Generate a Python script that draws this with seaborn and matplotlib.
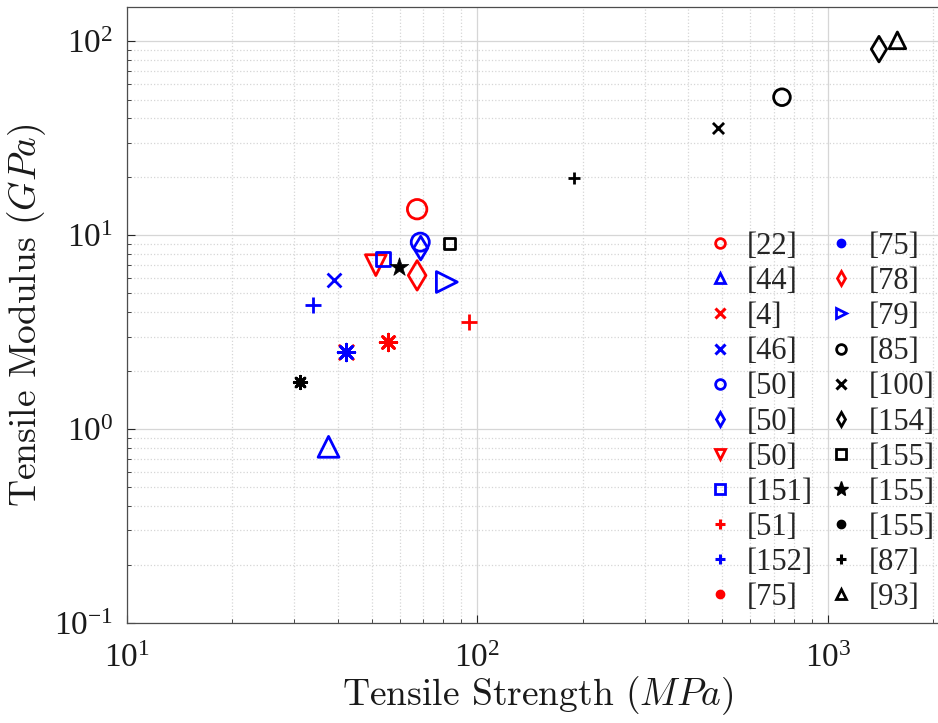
import numpy as np
import pandas as pd
import matplotlib
matplotlib.use("Agg")
import matplotlib.pyplot as plt
from matplotlib.lines import Line2D
import seaborn as sns

# ------------------------------------------------------------------
# data
# ------------------------------------------------------------------
refs = ['[22]', '[44]', '[4]', '[46]', '[50]', '[50]', '[50]', '[151]',
        '[51]', '[152]', '[75]', '[75]', '[78]', '[79]', '[85]', '[100]',
        '[154]', '[155]', '[155]', '[155]', '[87]', '[93]']
strength_mpa = [67.3, 37.6, 42.2, 39.0, 68.7, 68.9, 51.3, 53.7,
                94.4, 33.9, 55.5, 42.2, 67.3, 81.8, 740, 485,
                1400, 83.4, 59.6, 31.1, 189, 1580]
modulus_gpa = [13.6, 0.81, 2.49, 5.86, 9.2, 8.57, 7.0, 7.5,
               3.57, 4.35, 2.81, 2.49, 6.2, 5.73, 51.4, 35.6,
               91, 9.1, 6.84, 1.75, 19.7, 101]

# styling per series (kept apart from the data)
colors = ['r', 'b', 'r', 'b', 'b', 'b', 'r', 'b', 'r', 'b', 'r', 'b',
          'r', 'b', 'k', 'k', 'k', 'k', 'k', 'k', 'k', 'k']
ASTER = (8, 2, 0)
markers = ['o', '^', 'x', 'x', 'o', 'd', 'v', 's', '+', '+', ASTER, ASTER,
           'd', '>', 'o', 'x', 'd', 's', '*', ASTER, '+', '^']
sizes = [14, 15, 11, 10, 13, 12, 15, 10, 12, 12, 12, 12,
         15, 15, 12, 8, 13, 8, 14, 9, 9, 12]
legend_markers = ['o', '^', 'x', 'x', 'o', 'd', 'v', 's', '+', '+', 'o', 'o',
                  'd', '>', 'o', 'x', 'd', 's', '*', 'o', '+', '^']

df = pd.DataFrame({'ref': refs, 'strength': strength_mpa, 'modulus': modulus_gpa})

# ------------------------------------------------------------------
# style
# ------------------------------------------------------------------
sns.set_theme(style="white")
plt.rcParams['font.family'] = ['Liberation Serif', 'DejaVu Serif']
plt.rcParams['mathtext.fontset'] = 'cm'
plt.rcParams['axes.unicode_minus'] = False
palette = {'r': '#ff0000', 'b': '#0000ff', 'k': '#000000'}

fig = plt.figure(figsize=(9.38, 7.23), dpi=100)
ax = fig.add_axes([0.1354, 0.1383, 0.875, 0.852])

# ------------------------------------------------------------------
# scatter points, one series per reference
# ------------------------------------------------------------------
for i, row in df.iterrows():
    c = palette[colors[i]]
    m = markers[i]
    filled_shape = m in ('o', '^', 'v', '>', 'd', 's')
    if filled_shape:
        kw = dict(facecolor='none', edgecolor=c, linewidth=2.0)
    elif m == '*':
        kw = dict(color=c, edgecolor=c, linewidth=0.5)
    else:
        kw = dict(color=c, linewidth=2.0)
    sns.scatterplot(x=[row['strength']], y=[row['modulus']], marker=m,
                    s=sizes[i] ** 2, ax=ax, legend=False, zorder=3, **kw)

ax.set_xscale('log')
ax.set_yscale('log')
ax.set_xlim(10, 2200)
ax.set_ylim(0.1, 150)

ax.grid(which='major', color='#d6d6d6', linestyle='-', linewidth=0.9)
ax.grid(which='minor', color='#d6d6d6', linestyle=':', linewidth=0.9)
ax.set_axisbelow(True)
ax.tick_params(which='both', direction='in', labelsize=24, colors='#262626',
               labelcolor='#1a1a1a', left=True, bottom=True)
ax.tick_params(which='major', length=6, width=0.8)
ax.tick_params(axis='x', which='major', pad=15)
ax.tick_params(axis='y', which='major', pad=10)
ax.tick_params(which='minor', length=3, width=0.6)
for s in ax.spines.values():
    s.set_color('#4d4d4d')
    s.set_linewidth(0.9)

ax.set_xlabel(r'Tensile Strength ($MPa$)', fontsize=27, family='cmr10',
              color='#1a1a1a', labelpad=0)
ax.set_ylabel(r'Tensile Modulus ($GPa$)', fontsize=27, family='cmr10',
              color='#1a1a1a', labelpad=4)

# ------------------------------------------------------------------
# legend (small markers, no frame, two columns)
# ------------------------------------------------------------------
handles = []
for i, lab in enumerate(refs):
    c = palette[colors[i]]
    m = legend_markers[i]
    if markers[i] == ASTER:
        h = Line2D([], [], ls='none', marker='o', color=c, mfc=c, ms=6)
    elif m == '*':
        h = Line2D([], [], ls='none', marker='*', color=c, mfc=c, ms=11)
    elif m in ('o', '^', 'v', '>', 'd', 's'):
        h = Line2D([], [], ls='none', marker=m, color=c, mfc='none', ms=7, mew=2)
    else:
        h = Line2D([], [], ls='none', marker=m, color=c, ms=7, mew=2.2)
    handles.append(h)

ax.legend(handles, refs, ncol=2, loc='lower right', bbox_to_anchor=(1.006, -0.012),
          frameon=False, fontsize=22, handlelength=1.0, handletextpad=0.38,
          labelspacing=0.2, columnspacing=0.45, borderaxespad=0.2)

fig.savefig('out.png', dpi=100)
